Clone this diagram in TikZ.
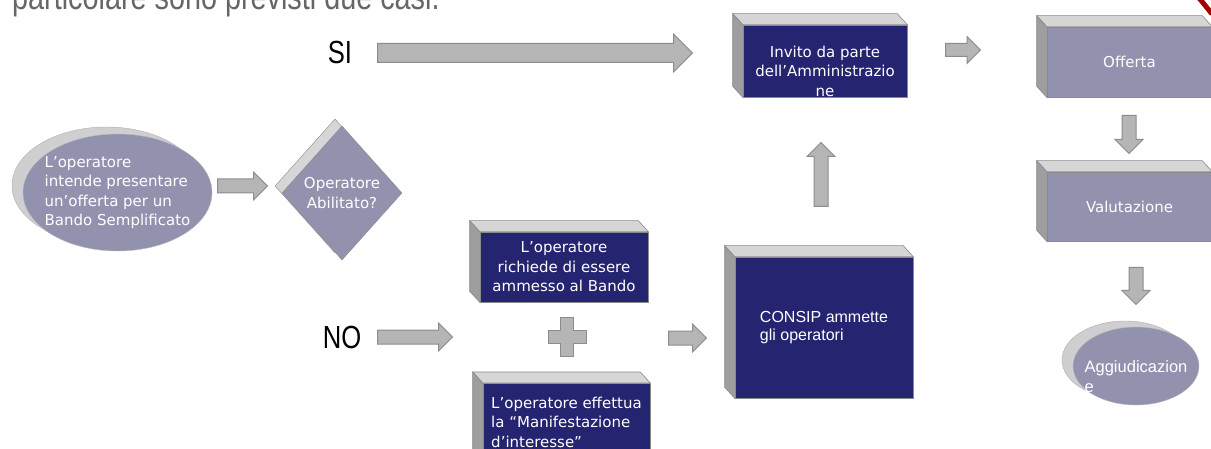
\documentclass[tikz,border=0pt]{standalone}
\usepackage{fontspec}
\setmainfont{DejaVu Sans}
\newfontfamily\arialfont{Liberation Sans}
\newfontfamily\narrowfont[FakeStretch=0.8]{Liberation Sans}
\usetikzlibrary{shapes.geometric,shapes.arrows,shadows}

\definecolor{navy}{HTML}{242470}
\definecolor{lavender}{HTML}{9292AE}
\definecolor{shell}{HTML}{CFCFD2}
\definecolor{edgegrey}{HTML}{8A8A8A}
\definecolor{bevtop}{HTML}{D6D6D6}
\definecolor{bevside}{HTML}{9E9E9E}
\definecolor{arrowfill}{HTML}{B5B5B5}
\definecolor{arrowedge}{HTML}{8C8C8C}
\definecolor{textgrey}{HTML}{666666}

\begin{document}
\begin{tikzpicture}[x=1pt,y=-1pt,font=\fontsize{15}{19.5}\selectfont]
    \tikzstyle{navybox}=[rectangle, fill=navy, draw=edgegrey, line width=0.6pt, text=white, inner sep=0pt]
    \tikzstyle{lavbox}=[navybox, fill=lavender]
    \tikzstyle{blob}=[ellipse, fill=lavender, draw=edgegrey!60, text=white, align=left, inner ysep=0pt]
    \tikzstyle{blockarrow}=[single arrow, fill=arrowfill, draw=arrowedge, line width=1pt, inner sep=6.5pt, single arrow head extend=7pt, single arrow tip angle=90, anchor=tail]
    \tikzstyle{answer}=[font=\narrowfont\fontsize{32}{32}\selectfont, inner sep=0pt]

    \useasboundingbox (0,0) rectangle (1211,449);
    \clip (0,0) rectangle (1211,449);

    % text cut off at the top
    \node[font=\narrowfont\fontsize{36}{36}\selectfont, text=textgrey, anchor=base west, inner sep=0pt] (intro) at (12,10) {particolare sono previsti due casi.};
    \draw[red!65!black, line width=5pt] (1199,-2) .. controls (1204,4) .. (1212,14);

    % start and decision
    \node[blob, minimum width=189pt, minimum height=117pt, inner xsep=-12pt,
          copy shadow={shadow xshift=-11pt, shadow yshift=7pt, fill=shell, draw=edgegrey!70}]
          (start) at (117.5,192.5) {L’operatore\\intende presentare\\un’offerta per un\\Bando Semplificato};
    \node[diamond, fill=lavender, draw=edgegrey, text=white, align=center, inner sep=0pt,
          minimum width=120pt, minimum height=134pt,
          copy shadow={shadow xshift=-7pt, shadow yshift=7pt, fill=bevtop, draw=edgegrey}]
          (abil) at (342,193) {Operatore\\Abilitato?};

    \node[answer] (si) at (340,52) {SI};
    \node[answer] (no) at (342,337) {NO};

    % boxes
    \node[navybox, minimum width=164pt, minimum height=72pt] (invito) at (825,61) {};
    \node[text=white, align=center] (invitotxt) at ([yshift=-10pt]invito.center) {Invito da parte\\dell’Amministrazio\\ne};
    \node[navybox, align=center, minimum width=168pt, minimum height=70pt] (richiesta) at (564,267) {L’operatore\\richiede di essere\\ammesso al Bando};
    \node[navybox, align=left, minimum width=167pt, minimum height=78pt, anchor=north] (manifest) at (566.5,383) {L’operatore effettua\\la “Manifestazione\\d’interesse”};
    \node[navybox, align=left, minimum width=178pt, minimum height=141pt, font=\arialfont\fontsize{16}{18.5}\selectfont] (consip) at (824,327.5) {CONSIP ammette\\gli operatori};
    \node[lavbox, minimum width=165pt, minimum height=70pt] (offerta) at (1129.5,62) {Offerta};
    \node[lavbox, minimum width=165pt, minimum height=69pt] (valut) at (1129.5,206.5) {Valutazione};

    \foreach \b in {invito,richiesta,manifest,consip,offerta,valut}{
      \filldraw[fill=bevtop, draw=edgegrey, line width=0.6pt] (\b.north west) -- ++(-10,-11) -- ([shift={(-10,-11)}]\b.north east) -- (\b.north east) -- cycle;
      \filldraw[fill=bevside, draw=edgegrey, line width=0.6pt] (\b.north west) -- ++(-10,-11) -- ([shift={(-10,-11)}]\b.south west) -- (\b.south west) -- cycle;
    }

    \node[blob, minimum width=126pt, minimum height=78pt,
          copy shadow={shadow xshift=-11pt, shadow yshift=6pt, fill=shell, draw=edgegrey!70}]
          (aggiud) at (1136,366) {};
    \node[text=white, align=left, font=\arialfont\fontsize{16.5}{20}\selectfont] (aggiudtxt) at ([yshift=-11pt]aggiud.center) {Aggiudicazion\\e};

    % block arrows
    \node[blockarrow, minimum height=50pt] (a1) at (217,186) {};
    \node[blockarrow, minimum height=315pt, inner sep=9pt, single arrow head extend=9.5pt] (asi) at (377,53) {};
    \node[blockarrow, minimum height=75pt] (ano) at (377,337) {};
    \node[blockarrow, minimum height=38pt] (a2) at (668,338) {};
    \node[blockarrow, minimum height=64pt, rotate=90] (aup) at (821,207) {};
    \node[blockarrow, minimum height=35pt, inner sep=6pt] (a3) at (945,50) {};
    \node[blockarrow, minimum height=38pt, rotate=-90] (ad1) at (1129,115) {};
    \node[blockarrow, minimum height=37pt, rotate=-90] (ad2) at (1136,267) {};

    % plus sign
    \coordinate (plus) at (567,337);
    \filldraw[fill=arrowfill, draw=arrowedge, line width=1pt]
      ([shift={(-6.5,-19)}]plus) -- ++(13,0) -- ++(0,12.5) -- ++(12.5,0) -- ++(0,13) -- ++(-12.5,0)
      -- ++(0,12.5) -- ++(-13,0) -- ++(0,-12.5) -- ++(-12.5,0) -- ++(0,-13) -- ++(12.5,0) -- cycle;
\end{tikzpicture}
\end{document}
